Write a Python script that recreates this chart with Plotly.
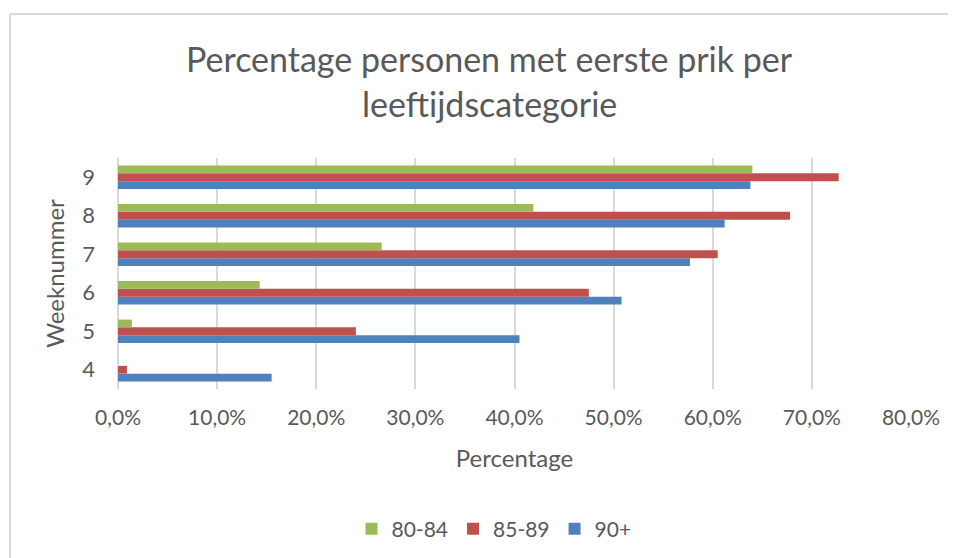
import plotly.graph_objects as go

weeks = ["4", "5", "6", "7", "8", "9"]
series_names = ["80-84", "85-89", "90+"]
vals_80_84 = [0.000, 0.014, 0.143, 0.266, 0.419, 0.640]
vals_85_89 = [0.009, 0.240, 0.475, 0.605, 0.678, 0.727]
vals_90 = [0.155, 0.405, 0.508, 0.577, 0.612, 0.638]
colors = {"80-84": "#9BBB59", "85-89": "#C0504D", "90+": "#4F81BD"}
x_ticks = [0.0, 0.1, 0.2, 0.3, 0.4, 0.5, 0.6, 0.7, 0.8]

title_lines = ["Percentage personen met eerste prik per", "leeftijdscategorie"]

# page has an 8px body margin; work in page pixel coordinates and shift
OFF = 8
W, H = 956 - OFF, 558 - OFF
ML, MR, MT, MB = 118 - OFF, 45, 158 - OFF, 169
PW, PH = W - ML - MR, H - MT - MB


def px(x):
    return (x - OFF - ML) / PW


def py(y):
    return 1 - (y - OFF - MT) / PH


FONT = "Lato"
TXT = "#595959"
GRID = "#D9D9D9"

fig = go.Figure()
# traces added bottom-to-top within each group: 90+ lowest, 80-84 on top
for name, vals in [("90+", vals_90), ("85-89", vals_85_89), ("80-84", vals_80_84)]:
    fig.add_trace(go.Bar(
        y=weeks, x=vals, name=name, orientation="h",
        marker=dict(color=colors[name], line=dict(width=0)),
    ))

fig.update_layout(
    width=W, height=H,
    margin=dict(l=ML, r=MR, t=MT, b=MB, autoexpand=False),
    paper_bgcolor="white", plot_bgcolor="white",
    barmode="group", bargap=0.395, bargroupgap=0,
    separators=",.",
    font=dict(family=FONT, color=TXT),
    showlegend=True,
    legend=dict(
        orientation="h", traceorder="reversed",
        x=px(494), xanchor="center", y=py(529), yanchor="middle",
        font=dict(size=21, color=TXT, family=FONT),
        itemwidth=30, itemsizing="constant",
        bgcolor="rgba(0,0,0,0)",
    ),
    xaxis=dict(
        range=[0, 0.8], tickvals=x_ticks, tickformat=".1%",
        showgrid=True, gridcolor=GRID, gridwidth=1.5,
        zeroline=True, zerolinecolor=GRID, zerolinewidth=1.5,
        showline=False, ticks="",
        tickfont=dict(size=21, color=TXT, family=FONT),
        ticklabelstandoff=14,
        title=dict(text="Percentage", font=dict(size=24, color=TXT, family=FONT), standoff=22),
        automargin=False, fixedrange=True,
    ),
    yaxis=dict(
        type="category", categoryorder="array", categoryarray=weeks,
        range=[-0.5, 5.5],
        showgrid=False, showline=False, ticks="",
        tickfont=dict(size=22, color=TXT, family=FONT),
        ticklabelstandoff=22,
        title=dict(text="Weeknummer", font=dict(size=24, color=TXT, family=FONT), standoff=10),
        automargin=False, fixedrange=True,
    ),
    shapes=[
        dict(type="line", xref="paper", yref="paper",
             x0=px(10), x1=px(1000), y0=py(14), y1=py(14),
             line=dict(color=GRID, width=2)),
        dict(type="line", xref="paper", yref="paper",
             x0=px(10), x1=px(10), y0=py(14), y1=py(600),
             line=dict(color=GRID, width=2)),
    ],
    annotations=[
        dict(text=title_lines[0], xref="paper", yref="paper",
             x=px(489), y=py(59), xanchor="center", yanchor="middle",
             showarrow=False, font=dict(size=34, color=TXT, family=FONT)),
        dict(text=title_lines[1], xref="paper", yref="paper",
             x=px(489), y=py(103), xanchor="center", yanchor="middle",
             showarrow=False, font=dict(size=34, color=TXT, family=FONT)),
    ],
)

fig.write_html("out.html", config={"displayModeBar": False})
